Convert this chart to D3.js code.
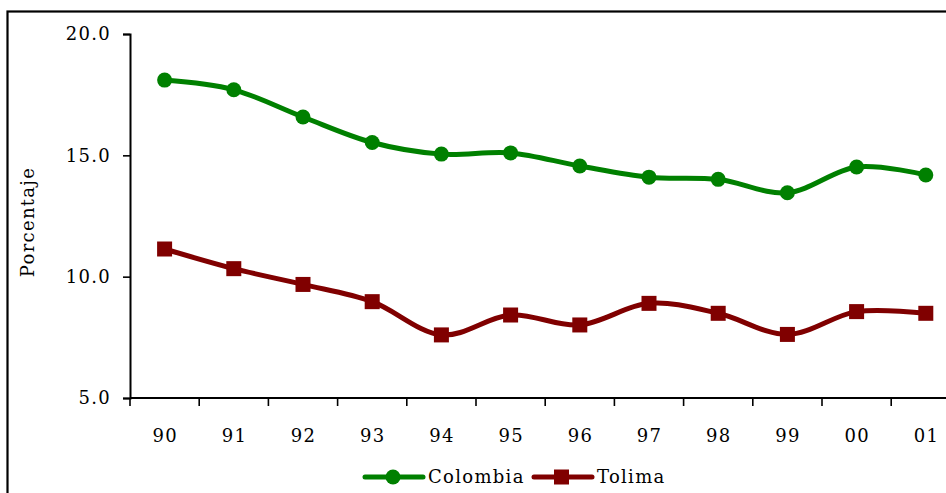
<!DOCTYPE html>
<html>
<head>
<meta charset="utf-8">
<script src="https://cdn.jsdelivr.net/npm/d3@7"></script>
<style>
  html, body { margin: 0; padding: 0; background: #fff; }
  svg { display: block; }
  text { font-family: "DejaVu Serif", "Liberation Serif", serif; fill: #000; letter-spacing: 1.3px; }
</style>
</head>
<body>
<svg id="chart" width="946" height="493"></svg>
<script>
const categories = ["90","91","92","93","94","95","96","97","98","99","00","01"];
const colombia = [18.1, 17.7, 16.58, 15.53, 15.05, 15.1, 14.56, 14.1, 14.01, 13.46, 14.52, 14.19];
const tolima = [11.14, 10.33, 9.68, 8.97, 7.6, 8.42, 8.01, 8.9, 8.49, 7.62, 8.56, 8.49];
const yTicks = [5, 10, 15, 20];
const seriesNames = ["Colombia", "Tolima"];

const svg = d3.select("#chart");
const FS = "18px";

// outer frame (extends past the right and bottom edges)
svg.append("rect")
  .attr("x", 7.5).attr("y", 11.5)
  .attr("width", 1000).attr("height", 600)
  .attr("fill", "none").attr("stroke", "#000").attr("stroke-width", 2.2);

const x = d3.scaleBand().domain(categories).range([130, 130 + 12 * 69.2]).padding(0);
const y = d3.scaleLinear().domain([5, 20]).range([398, 34]);

// y axis
const yAxis = d3.axisLeft(y).tickValues(yTicks).tickFormat(d3.format(".1f")).tickSize(7).tickPadding(12);
const gy = svg.append("g").attr("transform", "translate(130,0)").call(yAxis);
gy.select(".domain").attr("stroke", "#000").attr("stroke-width", 2);
gy.selectAll(".tick line").attr("stroke", "#000").attr("stroke-width", 1.6);
gy.selectAll(".tick text").style("font-size", FS).style("font-family", "DejaVu Serif, serif");

// x axis: ticks on band boundaries
const gx = svg.append("g").attr("transform", "translate(0,398)");
gx.append("line").attr("x1", 130).attr("x2", 130 + 12 * 69.2)
  .attr("stroke", "#000").attr("stroke-width", 2);
const boundaries = categories.map(c => x(c)).concat([x(categories[categories.length - 1]) + x.bandwidth()]);
gx.selectAll("line.tk").data(boundaries).join("line")
  .attr("class", "tk")
  .attr("x1", d => d).attr("x2", d => d)
  .attr("y1", 0).attr("y2", 8)
  .attr("stroke", "#000").attr("stroke-width", 1.6);
gx.selectAll("text.lbl").data(categories).join("text")
  .attr("class", "lbl")
  .attr("x", d => x(d) + x.bandwidth() / 2 + 0.6)
  .attr("y", 44)
  .attr("text-anchor", "middle")
  .style("font-size", FS)
  .text(d => d);

// y label
svg.append("text")
  .attr("transform", "translate(34,222) rotate(-90)")
  .attr("text-anchor", "middle")
  .style("font-size", FS)
  .text("Porcentaje");

const cx = d => x(d) + x.bandwidth() / 2;
const line = d3.line().curve(d3.curveCardinal.tension(0));

const green = "#008000", red = "#800000";

// Colombia
svg.append("path")
  .attr("d", line(categories.map((c, i) => [cx(c), y(colombia[i])])))
  .attr("fill", "none").attr("stroke", green).attr("stroke-width", 5)
  .attr("stroke-linejoin", "round");
svg.selectAll("circle.col").data(categories).join("circle")
  .attr("class", "col")
  .attr("cx", d => cx(d)).attr("cy", (d, i) => y(colombia[i]))
  .attr("r", 7.5).attr("fill", green);

// Tolima
svg.append("path")
  .attr("d", line(categories.map((c, i) => [cx(c), y(tolima[i])])))
  .attr("fill", "none").attr("stroke", red).attr("stroke-width", 5)
  .attr("stroke-linejoin", "round");
svg.selectAll("rect.tol").data(categories).join("rect")
  .attr("class", "tol")
  .attr("x", d => cx(d) - 7.5).attr("y", (d, i) => y(tolima[i]) - 7.5)
  .attr("width", 15).attr("height", 15).attr("fill", red);

// legend
const lg = svg.append("g");
const legendItems = [
  { name: seriesNames[0], color: green, shape: "circle", x0: 365 },
  { name: seriesNames[1], color: red, shape: "square", x0: 534 }
];
legendItems.forEach(it => {
  const g = lg.append("g").attr("transform", `translate(${it.x0},477)`);
  g.append("line").attr("x1", 0).attr("x2", 58).attr("y1", 0).attr("y2", 0)
    .attr("stroke", it.color).attr("stroke-width", 5).attr("stroke-linecap", "round");
  if (it.shape === "circle") {
    g.append("circle").attr("cx", 28).attr("cy", 0).attr("r", 7.5).attr("fill", it.color);
  } else {
    g.append("rect").attr("x", 20).attr("y", -7.5).attr("width", 15).attr("height", 15).attr("fill", it.color);
  }
  g.append("text").attr("x", 63).attr("y", 6).style("font-size", FS).text(it.name);
});
</script>
</body>
</html>
